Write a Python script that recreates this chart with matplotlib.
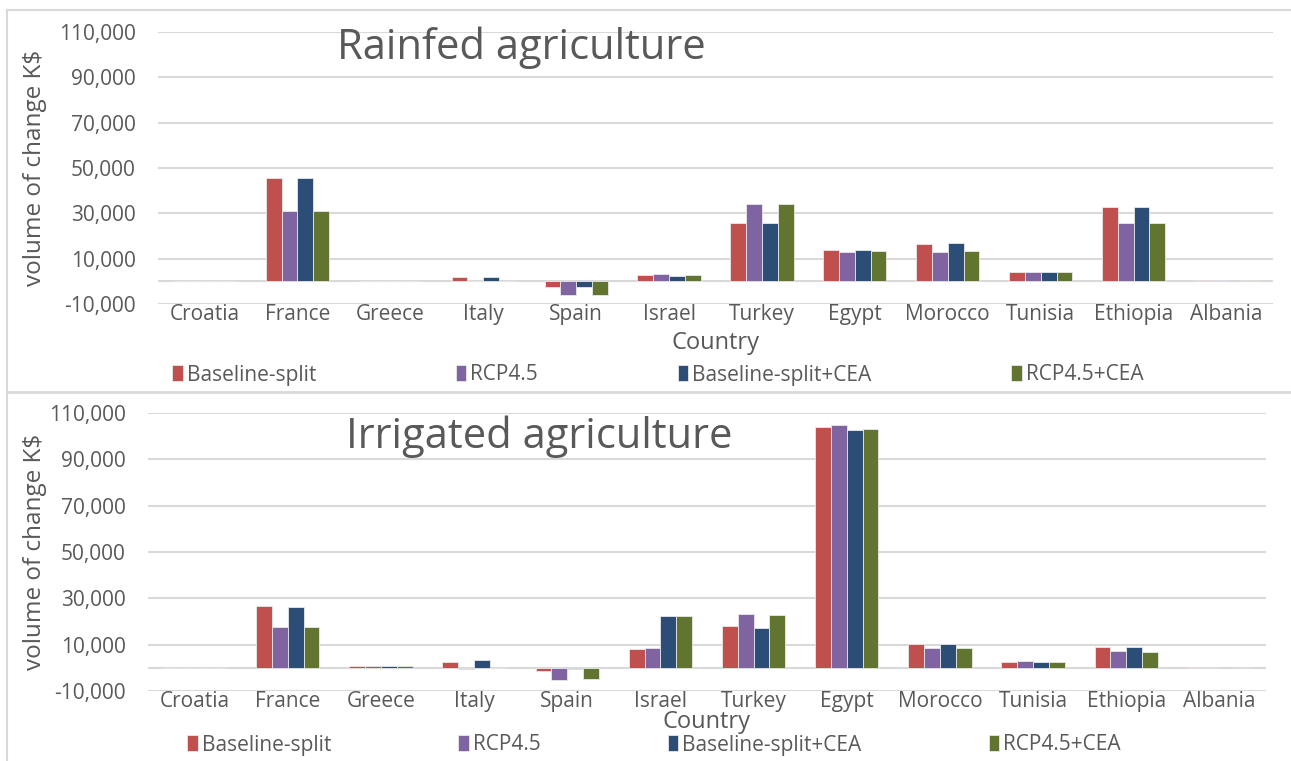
import numpy as np
import matplotlib
matplotlib.use('Agg')
import matplotlib.pyplot as plt
from matplotlib.lines import Line2D
from matplotlib.ticker import FuncFormatter

plt.rcParams['font.family'] = ['Open Sans', 'DejaVu Sans']

countries = ['Croatia', 'France', 'Greece', 'Italy', 'Spain', 'Israel', 'Turkey',
             'Egypt', 'Morocco', 'Tunisia', 'Ethiopia', 'Albania']
series = ['Baseline-split', 'RCP4.5', 'Baseline-split+CEA', 'RCP4.5+CEA']
colors = ['#C0504D', '#8064A2', '#2C4D75', '#617530']

# rainfed agriculture, volume of change K$
rain_base = [200, 45800, 0, 2000, -2300, 2900, 25700, 13700, 16500, 4000, 32800, 500]
rain_rcp = [200, 31000, 0, 0, -6200, 3300, 34000, 12900, 12900, 4000, 25700, 500]
rain_base_cea = [200, 45800, 0, 2000, -2600, 2300, 25700, 13800, 16800, 4000, 32800, 500]
rain_rcp_cea = [200, 31000, 0, 0, -6200, 2600, 34000, 13400, 13400, 4000, 25700, 500]

# irrigated agriculture
irr_base = [0, 26700, 700, 2600, -1500, 8100, 17900, 103800, 10500, 2600, 9200, 500]
irr_rcp = [0, 17800, 700, -300, -5400, 8700, 23400, 104800, 8400, 2900, 7300, 500]
irr_base_cea = [0, 26400, 700, 3400, -600, 22300, 17300, 102500, 10500, 2600, 8800, 500]
irr_rcp_cea = [0, 17600, 900, 0, -4700, 22500, 22700, 103200, 8400, 2600, 7000, 500]

yticks = [-10000, 10000, 30000, 50000, 70000, 90000, 110000]
txt = '#595959'
grid = '#d9d9d9'

fig = plt.figure(figsize=(12.91, 7.61), dpi=100)

# chart area borders
fig.add_artist(Line2D([7/1291, 1], [1-10/761, 1-10/761], color=grid, lw=1.5))
fig.add_artist(Line2D([7/1291, 7/1291], [0, 1-10/761], color=grid, lw=1.5))
fig.add_artist(Line2D([7/1291, 1], [1-392/761, 1-392/761], color=grid, lw=2))


def panel(rect, data, title, title_xy, ylab_x, xlab_y, leg_xy, colsp):
    ax = fig.add_axes(rect)
    x = np.arange(len(countries))
    w = 0.17
    bars = []
    for i, (vals, c) in enumerate(zip(data, colors)):
        b = ax.bar(x + (i - 1.5) * w, vals, w, color=c, edgecolor='#e8e8e8',
                   linewidth=0.6, zorder=3)
        bars.append(b)
    ax.set_xlim(-0.5, len(countries) - 0.5)
    ax.set_ylim(-10000, 110000)
    ax.set_yticks(yticks)
    ax.yaxis.set_major_formatter(FuncFormatter(lambda v, p: f'{int(v):,}'))
    ax.set_xticks(x)
    ax.set_xticklabels(countries)
    ax.grid(axis='y', color=grid, lw=1.5, zorder=0)
    ax.axhline(0, color=grid, lw=1.5, zorder=1)
    for s in ax.spines.values():
        s.set_visible(False)
    ax.tick_params(axis='both', length=0, labelsize=15, colors=txt)
    ax.tick_params(axis='y', pad=16)
    ax.tick_params(axis='x', pad=0)
    ax.set_ylabel('volume of change K$', fontsize=17.5, color=txt)
    ax.yaxis.label.set_va('center')
    ax.yaxis.set_label_coords(ylab_x, 0.5)
    ax.set_xlabel('Country', fontsize=17, color=txt)
    ax.xaxis.label.set_va('center')
    ax.xaxis.set_label_coords(0.5, xlab_y)
    ax.text(title_xy[0], title_xy[1], title, transform=ax.transAxes,
            fontsize=30, color=txt, ha='left', va='center')
    fig.legend(bars, series, loc='center left', bbox_to_anchor=leg_xy, ncol=4,
               frameon=False, fontsize=15, labelcolor=txt, handlelength=0.5,
               handleheight=0.8, handletextpad=0.2, columnspacing=colsp,
               borderaxespad=0)
    return ax


panel([158/1291, 1-304/761, 1115/1291, 272/761],
      [rain_base, rain_rcp, rain_base_cea, rain_rcp_cea],
      'Rainfed agriculture', (0.1605, 0.941), -0.110, -0.143,
      (164/1291, 1-375/761), 6.7)
panel([148/1291, 1-691/761, 1118/1291, 278/761],
      [irr_base, irr_rcp, irr_base_cea, irr_rcp_cea],
      'Irrigated agriculture', (0.177, 0.914), -0.101, -0.11,
      (179/1291, 1-745/761), 6.1)

fig.savefig('out.png', dpi=100)
